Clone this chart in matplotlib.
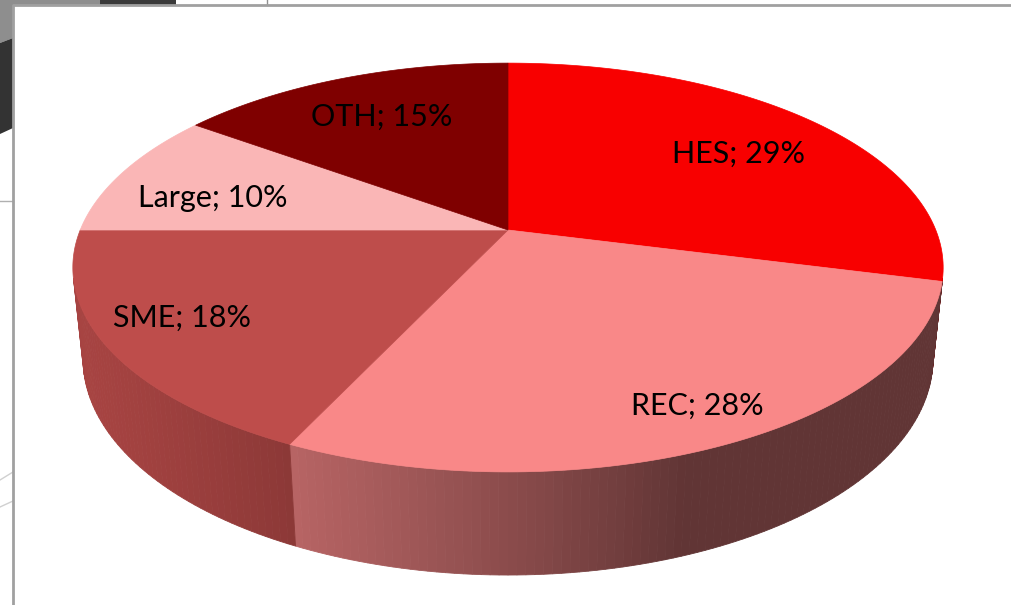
import numpy as np
import matplotlib.pyplot as plt
from matplotlib.patches import Polygon

# slice data, clockwise from 12 o'clock
labels = ['HES', 'REC', 'SME', 'Large', 'OTH']
shares = [29, 28, 18, 10, 15]
top_colors = ['#f80000', '#f98888', '#be4d4b', '#fab6b6', '#7f0000']
label_xy = [(739, 163), (697, 415), (182, 327), (213, 207), (382, 126)]

# camera for the tilted 3d disc (pixel space)
elev = np.radians(27.5)
cam_d = 5.45 * np.cos(elev)
focal = 2068
depth = 0.243
cx, cy = 508, 230


def project(phi, r=1.0, y=0.0):
    x = r * np.sin(phi)
    z = -r * np.cos(phi)
    yv = -z * np.sin(elev) + y * np.cos(elev)
    zv = z * np.cos(elev) + y * np.sin(elev)
    w = cam_d - zv
    return cx + focal * x / w, cy - focal * yv / w


def shade(phi):
    # ambient + light from front-left
    return 0.39 + 0.488 * max(0.0, np.cos(phi - np.radians(250)))


fig = plt.figure(figsize=(10.12, 6.05), dpi=100)
ax = fig.add_axes([0, 0, 1, 1])
ax.set_xlim(0, 1012)
ax.set_ylim(605, 0)
ax.axis('off')

# screenshot bits outside the chart panel
ax.add_patch(Polygon([(0, 0), (100, 0), (100, 5), (13, 5), (13, 38), (0, 43)], closed=True, fc='#8e8e8e', ec='none'))
ax.add_patch(Polygon([(100, 0), (176, 0), (176, 5), (100, 5)], closed=True, fc='#3a3a3a', ec='none'))
ax.add_patch(Polygon([(0, 43), (13, 38), (13, 128), (0, 134)], closed=True, fc='#333333', ec='none'))
ax.plot([0, 13], [201, 201], color='#b0b0b0', lw=1)
ax.plot([0, 13], [480, 472], color='#d0d0d0', lw=1)
ax.plot([0, 13], [507, 501], color='#d0d0d0', lw=1)
ax.plot([267, 267], [0, 5], color='#909090', lw=1)
# panel border
ax.plot([13, 13, 1012], [605, 5, 5], color='#a0a0a0', lw=2, solid_capstyle='butt')

bounds = np.radians(np.concatenate([[0], np.cumsum(shares)]) * 3.6)
limit = np.arccos(-1.0 / (cam_d * np.cos(elev)))

# side walls
for i in range(len(shares)):
    a, b = max(bounds[i], limit), min(bounds[i + 1], 2 * np.pi - limit)
    if b <= a:
        continue
    base = np.array(plt.matplotlib.colors.to_rgb(top_colors[i]))
    phis = np.linspace(a, b, max(int(np.degrees(b - a)), 2) + 1)
    for p1, p2 in zip(phis[:-1], phis[1:]):
        t1, t2 = project(p1), project(p2)
        b1, b2 = project(p1, y=-depth), project(p2, y=-depth)
        col = np.clip(base * shade((p1 + p2) / 2), 0, 1)
        ax.add_patch(Polygon([t1, t2, b2, b1], closed=True, fc=col, ec=col, lw=0.6))

# top faces
for i in range(len(shares)):
    phis = np.linspace(bounds[i], bounds[i + 1], 120)
    pts = [project(0, r=0)] + [project(p) for p in phis]
    ax.add_patch(Polygon(pts, closed=True, fc=top_colors[i], ec=top_colors[i], lw=0.5))

for lab, s, (x, y) in zip(labels, shares, label_xy):
    ax.text(x, y, f'{lab}; {s}%', ha='center', va='baseline', fontsize=22,
            family='Lato', color='black')

fig.savefig('out.png', dpi=100)
